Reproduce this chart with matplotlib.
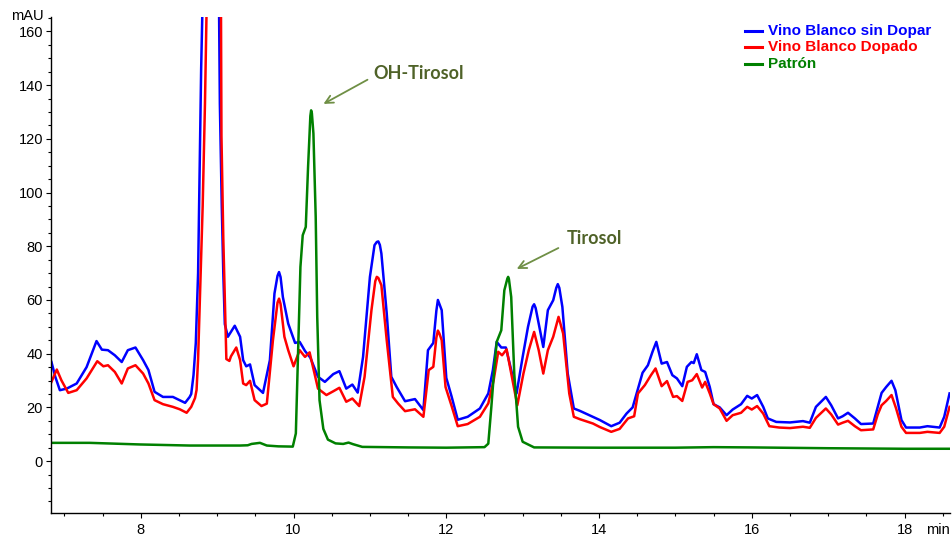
import matplotlib

matplotlib.use("Agg")
import matplotlib.pyplot as plt
from matplotlib.lines import Line2D
from matplotlib.ticker import MultipleLocator

# retention time (min) / absorbance (mAU)
BLUE_T = [
    6.83, 6.88, 6.94, 7.03, 7.16, 7.29, 7.42, 7.49, 7.57, 7.66, 7.75, 7.83,
    7.93, 8.03, 8.10, 8.18, 8.29, 8.42, 8.58, 8.64, 8.66, 8.69, 8.72, 8.75,
    8.77, 8.79, 8.805, 8.90, 9.025, 9.035, 9.06, 9.08, 9.10, 9.14, 9.23, 9.30,
    9.34, 9.38, 9.43, 9.49, 9.60, 9.69, 9.75, 9.79, 9.81, 9.83, 9.86, 9.93,
    10.02, 10.08, 10.15, 10.22, 10.32, 10.41, 10.52, 10.60, 10.69, 10.77,
    10.84, 10.91, 11.00, 11.06, 11.09, 11.11, 11.13, 11.15, 11.22, 11.28,
    11.35, 11.46, 11.59, 11.70, 11.76, 11.83, 11.87, 11.89, 11.91, 11.94,
    12.00, 12.07, 12.15, 12.28, 12.44, 12.55, 12.61, 12.66, 12.72, 12.78,
    12.84, 12.92, 13.00, 13.07, 13.13, 13.15, 13.17, 13.21, 13.27, 13.33,
    13.40, 13.44, 13.46, 13.48, 13.52, 13.59, 13.67, 13.75, 13.92, 14.01,
    14.16, 14.27, 14.36, 14.44, 14.51, 14.57, 14.64, 14.70, 14.75, 14.82,
    14.89, 14.96, 15.02, 15.09, 15.15, 15.21, 15.24, 15.28, 15.34, 15.39,
    15.45, 15.50, 15.58, 15.67, 15.75, 15.86, 15.94, 16.00, 16.07, 16.15,
    16.21, 16.32, 16.50, 16.67, 16.76, 16.84, 16.97, 17.04, 17.13, 17.19,
    17.26, 17.35, 17.43, 17.59, 17.65, 17.70, 17.76, 17.83, 17.88, 17.96,
    18.02, 18.20, 18.30, 18.46, 18.52, 18.59,
]
BLUE_V = [
    36.9, 31.4, 26.4, 27.0, 28.9, 35.0, 44.7, 41.5, 41.3, 39.4, 36.9, 41.3,
    42.3, 37.6, 33.9, 25.8, 23.9, 23.9, 21.7, 23.9, 25.0, 32.0, 44.0, 70.0,
    108.0, 146.0, 166.0, 480.0, 166.0, 133.0, 95.0, 70.0, 51.0, 46.3, 50.4, 46.3,
    37.6, 35.3, 36.0, 28.3, 25.4, 37.6, 62.4, 69.0, 70.4, 68.5, 61.1, 51.2,
    44.0, 44.4, 41.0, 38.5, 31.4, 29.5, 32.4, 33.5, 27.0, 28.5,
    25.5, 38.8, 68.6, 80.4, 81.6, 81.8, 80.5, 77.3, 55.0, 31.4,
    27.6, 22.3, 23.1, 19.0, 41.3, 44.0, 56.0, 60.0, 58.5, 56.2,
    31.0, 24.0, 15.4, 16.5, 19.6, 25.2, 33.9, 44.4, 42.3, 42.3,
    35.1, 25.2, 38.8, 50.0, 57.5, 58.4, 57.0, 51.2, 42.5, 56.2,
    59.9, 64.5, 65.9, 64.5, 57.4, 32.6, 19.6, 18.7, 16.5, 15.3,
    13.0, 14.3, 17.7, 20.0, 27.0, 32.9, 35.7, 40.7, 44.4, 36.3,
    36.9, 32.0, 30.8, 27.9, 35.1, 36.9, 36.5, 39.8, 33.9, 33.2,
    27.6, 21.2, 20.0, 17.1, 19.2, 21.2, 24.3, 23.3, 24.6, 20.2,
    15.9, 14.6, 14.4, 14.9, 14.3, 20.2, 23.9, 20.8, 15.9, 16.7,
    18.0, 15.9, 13.8, 14.0, 20.2, 25.4, 27.6, 29.9, 26.4, 15.3,
    12.5, 12.5, 13.0, 12.5, 16.5, 25.2,
]

RED_T = [
    6.83, 6.90, 6.96, 7.05, 7.16, 7.29, 7.43, 7.51, 7.57, 7.66, 7.75, 7.83,
    7.93, 8.03, 8.10, 8.18, 8.29, 8.42, 8.51, 8.60, 8.66, 8.71, 8.73, 8.75,
    8.77, 8.81, 8.84, 8.86, 8.95, 9.05, 9.056, 9.08, 9.12, 9.16, 9.18, 9.25,
    9.30, 9.34, 9.38, 9.43, 9.49, 9.58, 9.65, 9.73, 9.79, 9.81, 9.83, 9.88,
    9.93, 10.00, 10.08, 10.15, 10.21, 10.32, 10.43, 10.52, 10.60, 10.69,
    10.77, 10.86, 10.93, 11.02, 11.07, 11.09, 11.11, 11.15, 11.22, 11.30,
    11.37, 11.46, 11.59, 11.70, 11.77, 11.83, 11.87, 11.89, 11.91, 11.94,
    11.99, 12.07, 12.15, 12.28, 12.44, 12.55, 12.62, 12.68, 12.73, 12.79,
    12.85, 12.93, 13.01, 13.08, 13.15, 13.21, 13.27, 13.33, 13.40, 13.47,
    13.53, 13.61, 13.67, 13.75, 13.92, 14.01, 14.16, 14.27, 14.38, 14.46,
    14.51, 14.60, 14.68, 14.74, 14.82, 14.89, 14.97, 15.02, 15.09, 15.16,
    15.22, 15.28, 15.35, 15.39, 15.45, 15.50, 15.58, 15.67, 15.75, 15.86,
    15.94, 16.00, 16.07, 16.15, 16.23, 16.36, 16.50, 16.67, 16.76, 16.84,
    16.97, 17.04, 17.13, 17.19, 17.26, 17.35, 17.43, 17.59, 17.65, 17.70,
    17.76, 17.83, 17.89, 17.96, 18.02, 18.20, 18.30, 18.46, 18.52, 18.59,
]
RED_V = [
    29.5, 34.1, 30.1, 25.4, 26.4, 30.8, 37.2, 35.3, 35.7, 33.2, 28.9, 34.5,
    35.7, 32.6, 28.9, 22.7, 21.2, 20.2, 19.3, 18.0, 20.2, 23.5, 26.5, 38.0,
    57.0, 95.0, 133.0, 166.0, 480.0, 166.0, 121.0, 83.0, 38.0, 37.3, 39.0, 42.3,
    37.6, 28.9, 28.3, 29.9, 22.7, 20.5, 21.4, 45.0, 59.0, 60.5, 58.5, 46.3,
    41.3, 35.3, 41.3, 38.8, 40.5, 27.0, 24.6, 26.0, 27.3, 22.1,
    23.3, 20.5, 31.4, 56.2, 67.0, 68.6, 68.2, 65.5, 45.0, 23.9,
    21.4, 18.6, 19.3, 16.5, 33.9, 35.1, 46.0, 48.6, 47.5, 45.0,
    27.6, 20.5, 13.0, 13.8, 16.5, 21.5, 30.1, 40.7, 39.4, 41.6,
    32.6, 20.8, 32.6, 41.3, 48.1, 41.3, 32.6, 41.3, 46.3, 53.7,
    47.5, 25.2, 16.5, 15.6, 14.0, 12.7, 10.9, 12.0, 15.9, 16.7,
    25.2, 28.3, 32.0, 34.5, 27.9, 29.8, 23.9, 24.2, 22.4, 29.5,
    30.1, 32.4, 27.4, 29.5, 25.2, 21.2, 19.6, 15.0, 17.1, 18.0,
    20.2, 19.2, 20.5, 17.7, 13.0, 12.5, 12.3, 12.8, 12.4, 16.1,
    19.6, 17.4, 13.6, 14.3, 15.0, 13.0, 11.5, 11.8, 17.4, 20.8,
    22.4, 24.6, 19.6, 12.8, 10.5, 10.5, 10.9, 10.5, 12.8, 20.2,
]

GREEN_T = [
    6.82, 7.33, 7.99, 8.64, 9.30, 9.40, 9.45, 9.56, 9.65, 9.80, 9.99, 10.03,
    10.06, 10.09, 10.12, 10.16, 10.19, 10.22, 10.23, 10.24, 10.26, 10.29,
    10.31, 10.34, 10.39, 10.45, 10.55, 10.65, 10.72, 10.78, 10.90, 11.50,
    12.00, 12.50, 12.55, 12.59, 12.63, 12.66, 12.72, 12.76, 12.80, 12.81,
    12.82, 12.85, 12.89, 12.94, 13.00, 13.15, 14.00, 15.00, 15.50, 16.00,
    17.00, 18.00, 18.59,
]
GREEN_V = [
    6.8, 6.8, 6.2, 5.8, 5.8, 5.9, 6.4, 6.8, 5.8, 5.5, 5.4, 10.3,
    41.3, 72.3, 84.1, 87.2, 109.5, 128.5, 130.6, 129.5, 122.0, 91.0,
    53.7, 22.7, 12.0, 8.0, 6.6, 6.4, 6.9, 6.3, 5.3, 5.1,
    5.0, 5.2, 6.5, 20.2, 35.1, 44.4, 48.7, 63.6, 68.0, 68.6,
    67.8, 61.1, 32.6, 12.8, 7.2, 5.1, 5.0, 5.0, 5.2, 5.1,
    4.8, 4.6, 4.6,
]

SERIES_LABELS = ["Vino Blanco sin Dopar", "Vino Blanco Dopado", "Patrón"]
SERIES_COLORS = ["#0000FF", "#FF0000", "#008000"]

# peak labels: text, label anchor (t, mAU), arrow tip (t, mAU)
PEAK_LABELS = ["OH-Tirosol", "Tirosol"]
PEAK_TEXT_POS = [(11.05, 144.3), (13.58, 83.0)]
PEAK_ARROW_TAIL = [(11.00, 142.5), (13.50, 79.8)]
PEAK_ARROW_TIP = [(10.36, 132.5), (12.89, 71.1)]

X_TICKS = [8, 10, 12, 14, 16, 18]
Y_TICKS = [0, 20, 40, 60, 80, 100, 120, 140, 160]

W, H = 953, 536

plt.rcParams.update(
    {
        "font.family": ["Liberation Sans", "DejaVu Sans"],
        "font.size": 10.5,
        "axes.linewidth": 1.0,
    }
)


def plot_chromatogram(out_path="out.png"):
    fig = plt.figure(figsize=(W / 100, H / 100), dpi=100)
    ax = fig.add_axes([0.0532, 0.043, 0.944, 0.925])

    traces = [(BLUE_T, BLUE_V), (RED_T, RED_V), (GREEN_T, GREEN_V)]
    for (t, v), color in zip(traces, SERIES_COLORS):
        ax.plot(t, v, color=color, lw=1.8, solid_joinstyle="round")

    ax.set_xlim(6.82, 18.6)
    ax.set_ylim(-19.3, 165.3)
    ax.set_xticks(X_TICKS)
    ax.set_yticks(Y_TICKS)
    ax.xaxis.set_minor_locator(MultipleLocator(0.5))
    ax.yaxis.set_minor_locator(MultipleLocator(5))
    ax.tick_params(which="major", length=3.5, width=0.8, direction="out")
    ax.tick_params(which="minor", length=2.5, width=0.8, direction="out")
    ax.tick_params(axis="x", pad=4)
    ax.tick_params(axis="y", pad=2)
    for side in ["top", "right"]:
        ax.spines[side].set_visible(False)

    fig.text(43.5 / W, 1 - 16.5 / H, "mAU", ha="right", va="center",
             fontsize=10.5)
    fig.text(950 / W, 1 - 530 / H, "min", ha="right", va="center",
             fontsize=10.5)

    for label, txt, tail, tip in zip(PEAK_LABELS, PEAK_TEXT_POS,
                                     PEAK_ARROW_TAIL, PEAK_ARROW_TIP):
        ax.annotate("", xy=tip, xytext=tail,
                    arrowprops=dict(arrowstyle="->", color="#6F8F45",
                                    lw=1.3, mutation_scale=14))
        ax.text(txt[0], txt[1], label, color="#4F6228", fontsize=13,
                fontweight="bold", family=["Lato", "DejaVu Sans"],
                va="center", ha="left")

    # legend drawn by hand: short line + coloured bold label per row
    rows_y = [30.7, 47.3, 63.8]
    for label, color, y in zip(SERIES_LABELS, SERIES_COLORS, rows_y):
        fig.add_artist(Line2D([745 / W, 762 / W], [1 - y / H, 1 - y / H],
                              color=color, lw=2.2))
        fig.text(768 / W, 1 - y / H, label, color=color, fontsize=11,
                 fontweight="bold", ha="left", va="center")

    fig.savefig(out_path, dpi=100)
    plt.close(fig)


if __name__ == "__main__":
    plot_chromatogram()
